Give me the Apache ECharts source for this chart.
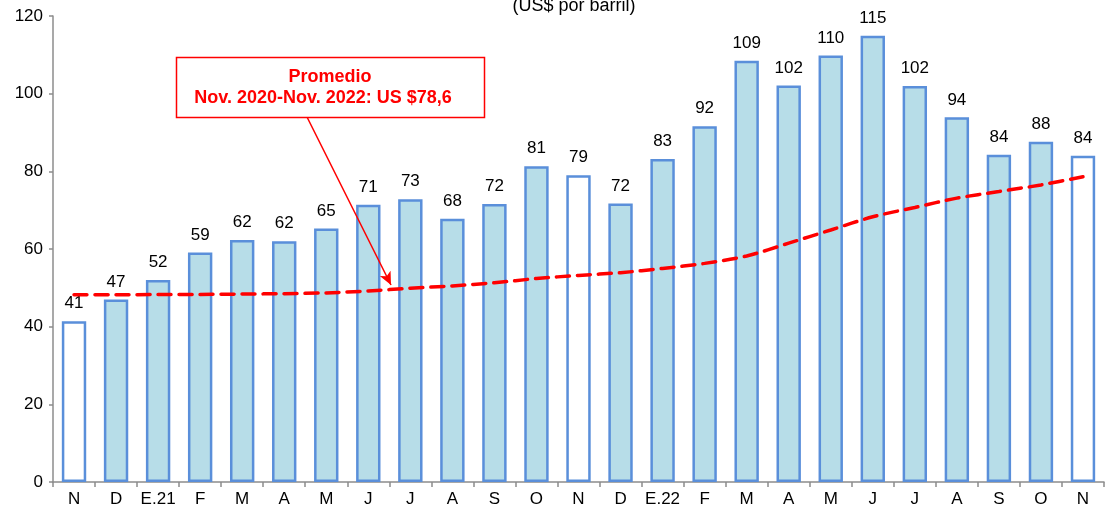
<!DOCTYPE html>
<html>
<head>
<meta charset="utf-8">
<script src="https://cdn.jsdelivr.net/npm/echarts@6/dist/echarts.min.js"></script>
<style>
html,body{margin:0;padding:0;background:#fff;}
#c{width:1105px;height:516px;}
</style>
</head>
<body>
<div id="c"></div>
<script>
var categories = ['N','D','E.21','F','M','A','M','J','J','A','S','O','N','D','E.22','F','M','A','M','J','J','A','S','O','N'];
var prices = [41.4,47.0,52.0,59.1,62.3,62.0,65.3,71.4,72.8,67.8,71.6,81.3,79.0,71.7,83.2,91.6,108.5,102.1,109.8,114.9,102.0,93.9,84.3,87.6,84.0];
var average = [48.2,48.2,48.3,48.3,48.4,48.5,48.7,49.2,49.9,50.5,51.3,52.4,53.2,53.9,55.0,56.3,58.2,61.5,64.9,68.3,70.7,73.1,74.8,76.5,78.6];
var hollowIdx = [0,12,24];
var yTicks = {min:0, max:120, interval:20};
var titleText = '(US$ por barril)';
var noteLine1 = 'Promedio';
var noteLine2 = 'Nov. 2020-Nov. 2022: US $78,6';

var chart = echarts.init(document.getElementById('c'), null, {renderer:'canvas'});
var barData = prices.map(function(v,i){
  var hollow = hollowIdx.indexOf(i) >= 0;
  return {value:v, itemStyle:{color: hollow ? '#ffffff' : '#B7DDE8'}};
});
var font = 'Liberation Sans, Arial, sans-serif';
chart.setOption({
  animation:false,
  textStyle:{fontFamily:font},
  grid:{left:53, right:1, top:16, bottom:34, containLabel:false},
  xAxis:{
    type:'category', data:categories, boundaryGap:true,
    axisLine:{lineStyle:{color:'#8c8c8c', width:1.5}},
    axisTick:{show:true, length:5, lineStyle:{color:'#8c8c8c', width:1.5}},
    axisLabel:{color:'#000', fontSize:17, margin:9, interval:0, fontFamily:font}
  },
  yAxis:{
    type:'value', min:yTicks.min, max:yTicks.max, interval:yTicks.interval,
    axisLine:{show:true, lineStyle:{color:'#8c8c8c', width:1.5}},
    axisTick:{show:true, length:4, lineStyle:{color:'#8c8c8c', width:1.5}},
    splitLine:{show:false},
    axisLabel:{color:'#000', fontSize:17, margin:10, fontFamily:font}
  },
  series:[
    {
      type:'bar', data:barData, barWidth:'58%',
      itemStyle:{borderColor:'#5A8FDA', borderWidth:2.5},
      label:{show:true, position:'top', distance:9, color:'#000', fontSize:17, fontFamily:font,
        formatter:function(p){return Math.round(p.value);}}
    },
    {
      type:'line', data:average, smooth:0.3, symbol:'none', z:5,
      lineStyle:{color:'#FF0000', width:3.5, type:[13,8], cap:'round'},
      markLine:{
        silent:true, symbol:['none','arrow'], symbolSize:[9,13],
        label:{show:false},
        lineStyle:{color:'#FF0000', width:1.5, type:'solid'},
        data:[[{x:307, y:117}, {x:391, y:285}]]
      }
    }
  ],
  graphic:[
    {type:'text', x:574, y:-3, style:{text:titleText, fill:'#000', font:'18px '+font, align:'center', verticalAlign:'top'}, z:10},
    {type:'rect', shape:{x:176.5, y:57.5, width:308, height:60}, style:{fill:'#fff', stroke:'#FF0000', lineWidth:1.5}, z:10},
    {type:'text', x:330, y:77, style:{text:noteLine1, fill:'#FF0000', font:'bold 18px '+font, align:'center', verticalAlign:'middle'}, z:11},
    {type:'text', x:323, y:98, style:{text:noteLine2, fill:'#FF0000', font:'bold 18px '+font, align:'center', verticalAlign:'middle'}, z:11}
  ]
});
</script>
</body>
</html>
